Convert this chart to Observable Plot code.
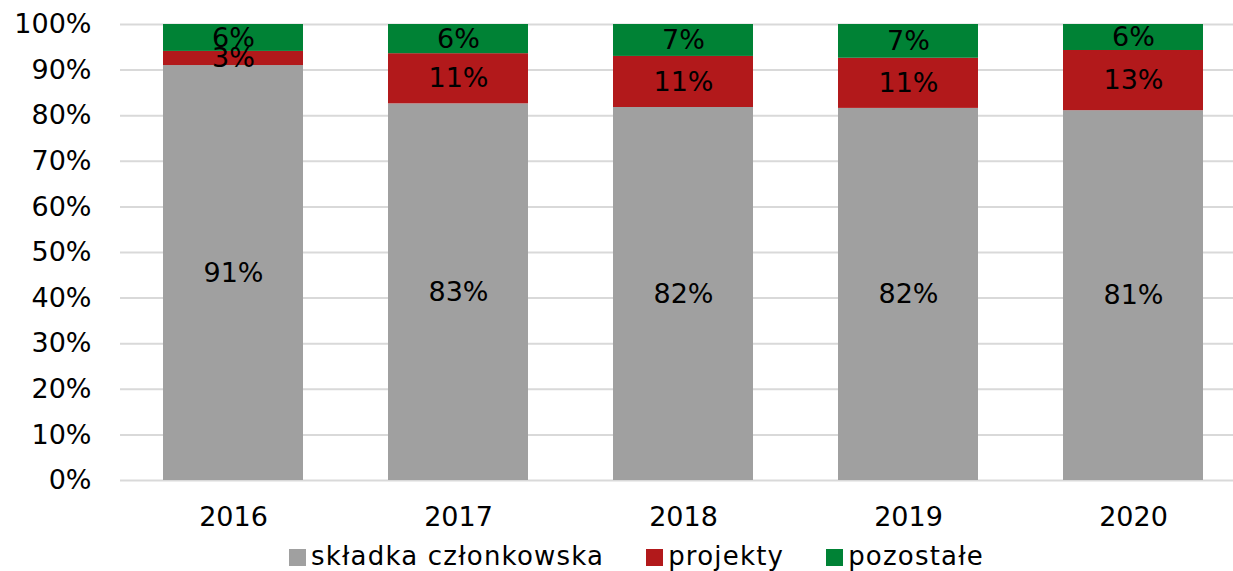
<!DOCTYPE html>
<html>
<head>
<meta charset="utf-8">
<script src="https://cdn.jsdelivr.net/npm/d3@7"></script>
<script src="https://cdn.jsdelivr.net/npm/@observablehq/plot@0.6"></script>
<style>
  body { margin: 0; background: #fff; font-family: "DejaVu Sans", Verdana, sans-serif; }
  #legend { display: flex; justify-content: center; align-items: center; margin-top: 6px; padding-left: 40px; font-size: 26px; letter-spacing: 1.2px; line-height: 30px; color: #000; }
  .item { display: flex; align-items: center; margin: 0 21px; }
  .sw { width: 17px; height: 17px; margin-right: 5px; margin-top: 3px; }
</style>
</head>
<body>
<div id="chart"></div>
<div id="legend"></div>
<script>
const years = ["2016", "2017", "2018", "2019", "2020"];
const series = ["składka członkowska", "projekty", "pozostałe"];
const colors = ["#a0a0a0", "#b2191b", "#008235"];
const skladka = [91.0, 82.6, 81.8, 81.6, 81.1];
const projekty = [3.1, 11.0, 11.2, 11.0, 13.2];
const pozostale = [5.9, 6.4, 7.0, 7.4, 5.7];
const yTicks = [0, 10, 20, 30, 40, 50, 60, 70, 80, 90, 100];

const values = [skladka, projekty, pozostale];
const data = [];
series.forEach((s, i) => years.forEach((y, j) => data.push({year: y, series: s, value: values[i][j]})));

const chart = Plot.plot({
  width: 1233,
  height: 535,
  marginTop: 24,
  marginBottom: 55,
  marginLeft: 120,
  marginRight: 0,
  style: { fontFamily: "DejaVu Sans, Verdana, sans-serif", fontSize: "27px", color: "#000", background: "#fff", overflow: "visible" },
  x: { domain: years, range: [120, 1245], paddingInner: 0.378, paddingOuter: 0.189, label: null, tickSize: 0, tickPadding: 26 },
  y: { domain: [0, 100], ticks: yTicks, tickFormat: d => d + "%", label: null, tickSize: 0, tickPadding: 29 },
  color: { domain: series, range: colors },
  marks: [
    Plot.ruleY(yTicks, { stroke: "#d9d9d9", strokeWidth: 2 }),
    Plot.barY(data, Plot.stackY({ x: "year", y: "value", fill: "series", z: "series", order: series })),
    Plot.text(data, Plot.stackY({ x: "year", y: "value", z: "series", order: series, text: d => Math.round(d.value) + "%", fill: "#000", fontSize: 27 }))
  ]
});
document.getElementById("chart").appendChild(chart);

const legend = document.getElementById("legend");
series.forEach((s, i) => {
  const item = document.createElement("div");
  item.className = "item";
  const sw = document.createElement("span");
  sw.className = "sw";
  sw.style.background = colors[i];
  const t = document.createElement("span");
  t.textContent = s;
  item.appendChild(sw);
  item.appendChild(t);
  legend.appendChild(item);
});
</script>
</body>
</html>
